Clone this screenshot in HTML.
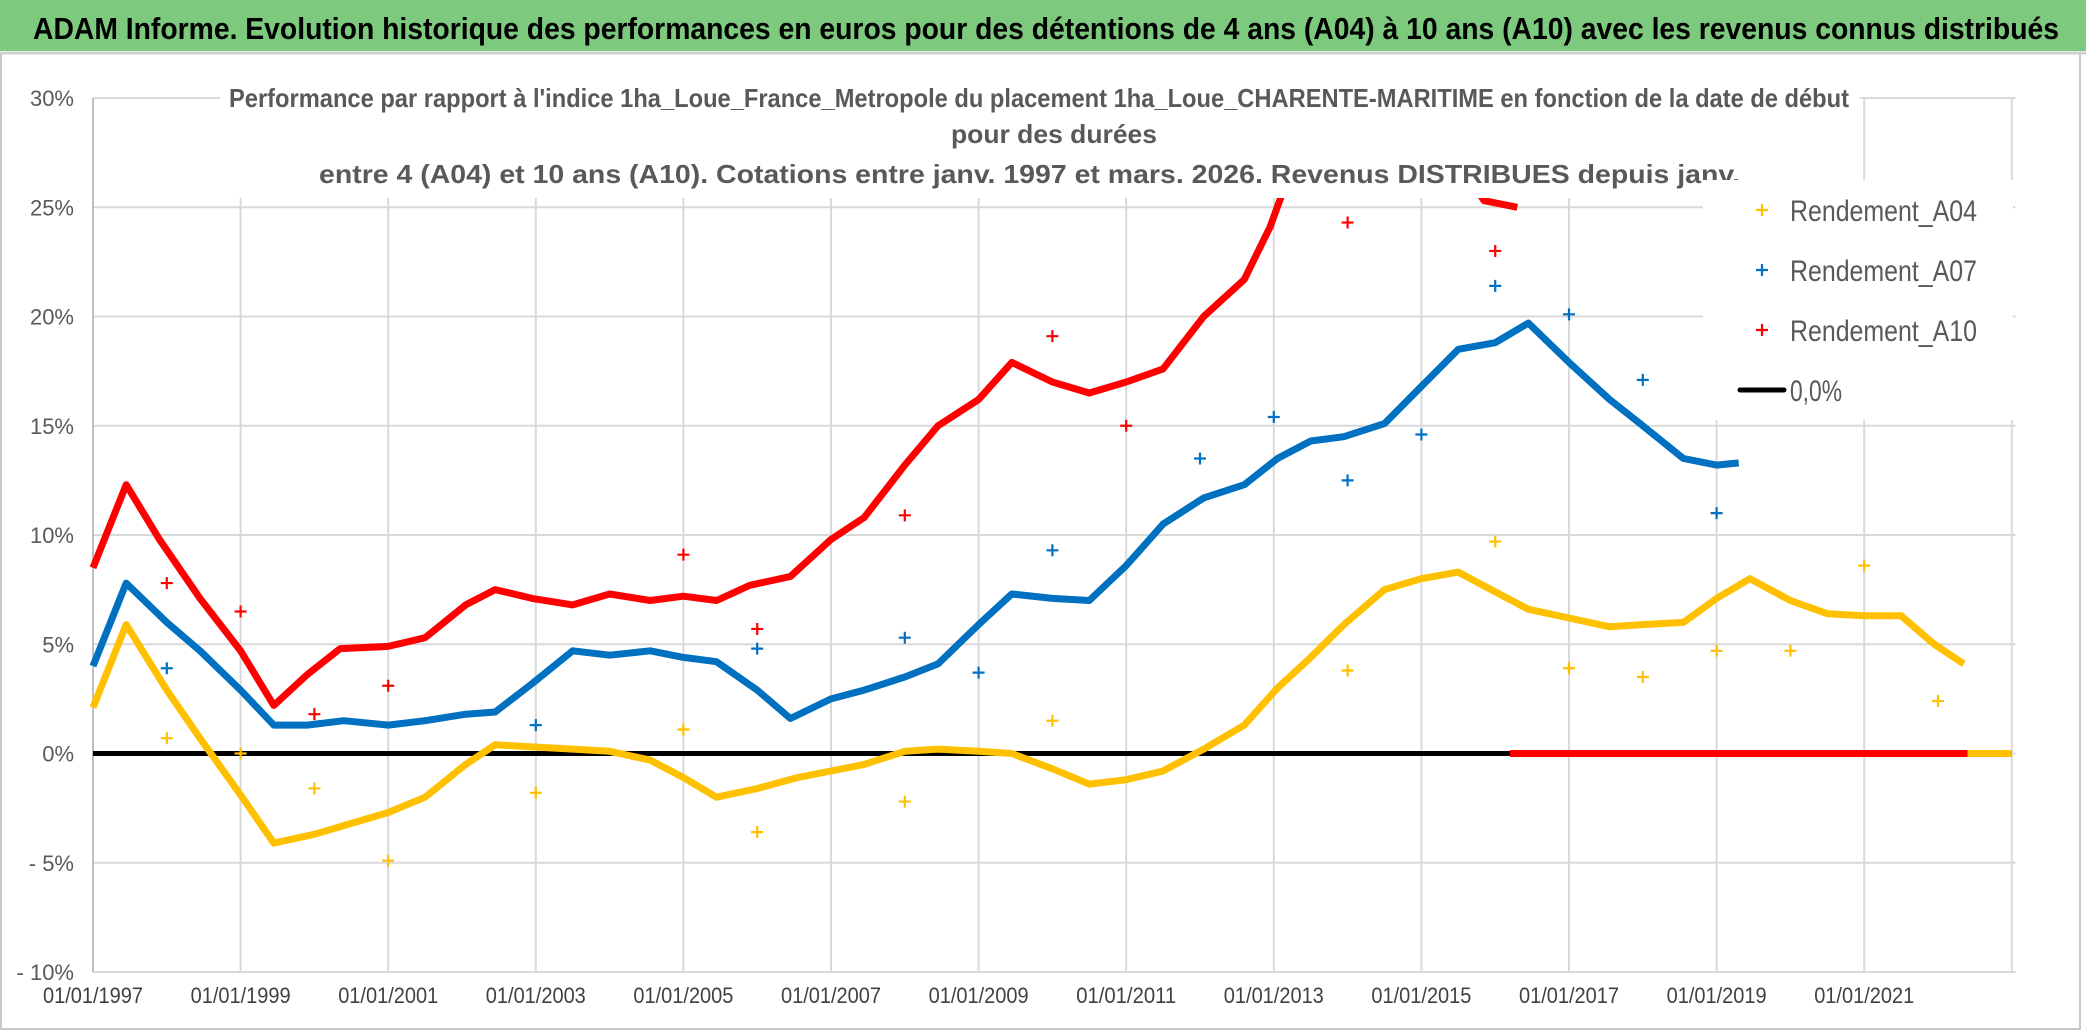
<!DOCTYPE html>
<html><head><meta charset="utf-8"><style>
html,body{margin:0;padding:0;background:#fff;}
svg{display:block;font-family:"Liberation Sans",sans-serif;}
</style></head><body>
<svg id="chart" width="2086" height="1031" viewBox="0 0 2086 1031" xmlns="http://www.w3.org/2000/svg">
<rect x="0" y="0" width="2086" height="1031" fill="#fff"/>
<rect x="1" y="53" width="2079" height="976" fill="none" stroke="#c8c8c8" stroke-width="2"/>
<rect x="0" y="0" width="2086" height="51" fill="#7dc97d"/>
<line x1="0" y1="53" x2="2086" y2="53" stroke="#d0d0d0" stroke-width="3"/>
<text x="33" y="39" font-size="31" font-weight="bold" fill="#000" textLength="2026" lengthAdjust="spacingAndGlyphs">ADAM Informe. Evolution historique des performances en euros pour des détentions de 4 ans (A04) à 10 ans (A10) avec les revenus connus distribués</text>
<g id="grid"></g>
<g id="series"></g>
<rect x="220" y="80" width="1640" height="118" fill="#fff"/>
<g fill="#595959" font-size="26" font-weight="600">
<text x="229" y="107" textLength="1620" lengthAdjust="spacingAndGlyphs">Performance par rapport à l'indice 1ha_Loue_France_Metropole  du placement 1ha_Loue_CHARENTE-MARITIME en fonction de la date de début</text>
<text x="951" y="143" textLength="206" lengthAdjust="spacingAndGlyphs">pour des durées</text>
<text x="319" y="183" textLength="1421" lengthAdjust="spacingAndGlyphs">entre 4 (A04) et 10 ans (A10). Cotations entre janv. 1997 et mars. 2026. Revenus DISTRIBUES depuis janv.</text>
</g>
<g id="legend">
<rect x="1703" y="180" width="310" height="240" fill="#fff"/>
</g>
</svg>
<script>
const yTicks = [30,25,20,15,10,5,0,-5,-10];
const yTickLabels = ["30%","25%","20%","15%","10%","5%","0%","- 5%","- 10%"];
const xTicks = [1997,1999,2001,2003,2005,2007,2009,2011,2013,2015,2017,2019,2021];
const xTickLabels = ["01/01/1997","01/01/1999","01/01/2001","01/01/2003","01/01/2005","01/01/2007","01/01/2009","01/01/2011","01/01/2013","01/01/2015","01/01/2017","01/01/2019","01/01/2021"];
const a04Dates = [1997.0,1997.45,1998.0,1998.45,1999.0,1999.45,2000.0,2000.5,2001.0,2001.5,2002.05,2002.45,2002.95,2003.5,2004.0,2004.55,2005.0,2005.45,2006.0,2006.55,2007.0,2007.45,2008.0,2008.45,2009.0,2009.45,2010.0,2010.5,2011.0,2011.5,2012.05,2012.6,2013.05,2013.5,2013.95,2014.5,2015.0,2015.5,2016.0,2016.45,2017.0,2017.55,2018.0,2018.55,2019.0,2019.45,2020.0,2020.5,2021.0,2021.5,2021.95,2022.35];
const a04Values = [2.1,5.9,2.9,0.7,-1.9,-4.1,-3.7,-3.2,-2.7,-2.0,-0.5,0.4,0.3,0.2,0.1,-0.3,-1.1,-2.0,-1.6,-1.1,-0.8,-0.5,0.1,0.2,0.1,0.0,-0.7,-1.4,-1.2,-0.8,0.2,1.3,3.0,4.4,5.9,7.5,8.0,8.3,7.4,6.6,6.2,5.8,5.9,6.0,7.1,8.0,7.0,6.4,6.3,6.3,5.0,4.1];
const a07Dates = [1997.0,1997.45,1998.0,1998.45,1999.0,1999.45,1999.9,2000.4,2001.0,2001.5,2002.05,2002.45,2002.95,2003.5,2004.0,2004.55,2005.0,2005.45,2006.0,2006.45,2007.0,2007.45,2008.0,2008.45,2009.0,2009.45,2010.0,2010.5,2011.0,2011.5,2012.05,2012.6,2013.05,2013.5,2013.95,2014.5,2015.0,2015.5,2016.0,2016.45,2017.0,2017.55,2018.0,2018.55,2019.0,2019.3];
const a07Values = [4.0,7.8,6.0,4.7,2.9,1.3,1.3,1.5,1.3,1.5,1.8,1.9,3.2,4.7,4.5,4.7,4.4,4.2,2.9,1.6,2.5,2.9,3.5,4.1,5.9,7.3,7.1,7.0,8.6,10.5,11.7,12.3,13.5,14.3,14.5,15.1,16.8,18.5,18.8,19.7,17.9,16.2,15.0,13.5,13.2,13.3];
const a10Dates = [1997.0,1997.45,1997.9,1998.45,1999.0,1999.45,1999.9,2000.35,2001.0,2001.5,2002.05,2002.45,2002.95,2003.5,2004.0,2004.55,2005.0,2005.45,2005.9,2006.45,2007.0,2007.45,2008.0,2008.45,2009.0,2009.45,2010.0,2010.5,2011.0,2011.5,2012.05,2012.6,2012.95,2013.1,2013.6,2014.5,2015.3,2015.85,2016.3];
const a10Values = [8.5,12.3,9.8,7.1,4.7,2.2,3.6,4.8,4.9,5.3,6.8,7.5,7.1,6.8,7.3,7.0,7.2,7.0,7.7,8.1,9.8,10.8,13.2,15.0,16.2,17.9,17.0,16.5,17.0,17.6,20.0,21.7,24.1,25.5,28,29,28,25.3,25.0];
const a10ZeroRange = [2016.2,2022.4];
const a04ZeroRange = [2022.4,2023.0];
const a04OutDates = [1998,1999,2000,2001,2003,2005,2006,2008,2010,2014,2016,2017,2018,2019,2020,2021,2022];
const a04OutValues = [0.7,0,-1.6,-4.9,-1.8,1.1,-3.6,-2.2,1.5,3.8,9.7,3.9,3.5,4.7,4.7,8.6,2.4];
const a07OutDates = [1998,2003,2006,2008,2009,2010,2012,2013,2014,2015,2016,2017,2018,2019];
const a07OutValues = [3.9,1.3,4.8,5.3,3.7,9.3,13.5,15.4,12.5,14.6,21.4,20.1,17.1,11.0];
const a10OutDates = [1998,1999,2000,2001,2005,2006,2008,2010,2011,2014,2016];
const a10OutValues = [7.8,6.5,1.8,3.1,9.1,5.7,10.9,19.1,15.0,24.3,23.0];
const legendLabels = ["Rendement_A04","Rendement_A07","Rendement_A10","0,0%"];

const NS = "http://www.w3.org/2000/svg";
const X0 = 93, PX_YEAR = 73.8, Y0 = 753.5, PX_PCT = 21.85;
function xs(t){ return X0 + (t - 1997) * PX_YEAR; }
function ys(v){ return Y0 - v * PX_PCT; }
function mk(tag, attrs, parent){ const e = document.createElementNS(NS, tag); for (const k in attrs) e.setAttribute(k, attrs[k]); parent.appendChild(e); return e; }

const grid = document.getElementById('grid');
const XR = xs(2023.05);
yTicks.forEach((v, i) => {
  const l = mk('line', {x1: X0, x2: XR, y1: ys(v), y2: ys(v), stroke: '#d9d9d9', 'stroke-width': 2}, grid);
  
  
  const t = mk('text', {x: 74, y: ys(v) + 8, 'text-anchor': 'end', 'font-size': 22, fill: '#595959'}, grid);
  t.textContent = yTickLabels[i];
  
  
});
for (let yr = 1999; yr <= 2023; yr += 2) {
  const l = mk('line', {x1: xs(yr), x2: xs(yr), y1: ys(30), y2: ys(-10), stroke: '#d9d9d9', 'stroke-width': 2}, grid);
  
  
}
mk('line', {x1: X0, x2: X0, y1: ys(30), y2: ys(-10), stroke: '#bfbfbf', 'stroke-width': 2}, grid);
xTicks.forEach((yr, i) => {
  const t = mk('text', {x: xs(yr), y: 1003, 'text-anchor': 'middle', 'font-size': 22, fill: '#404040', textLength: 100, lengthAdjust: 'spacingAndGlyphs'}, grid);
  t.textContent = xTickLabels[i];
  
  
});

const sg = document.getElementById('series');
const zl = mk('line', {x1: X0, x2: xs(2023.0), y1: ys(0), y2: ys(0), stroke: '#000', 'stroke-width': 5}, sg);



function drawLine(dates, vals, color, name){
  const pts = dates.map((d, i) => xs(d).toFixed(1) + ',' + ys(vals[i]).toFixed(1)).join(' ');
  const p = mk('polyline', {points: pts, fill: 'none', stroke: color, 'stroke-width': 7, 'stroke-linejoin': 'round'}, sg);
  
  
}
function drawPlus(dates, vals, color, name){
  dates.forEach((d, i) => {
    const x = xs(d), y = ys(vals[i]);
    const p = mk('path', {d: `M${x-6},${y}H${x+6}M${x},${y-6}V${y+6}`, stroke: color, 'stroke-width': 2.2}, sg);
    
    
  });
}
function drawZero(range, color, name){
  const p = mk('line', {x1: xs(range[0]), x2: xs(range[1]), y1: ys(0), y2: ys(0), stroke: color, 'stroke-width': 7}, sg);
  
  
}
drawLine(a04Dates, a04Values, '#ffc000', 'series-a04');
drawLine(a07Dates, a07Values, '#0070c0', 'series-a07');
drawLine(a10Dates, a10Values, '#ff0000', 'series-a10');
drawZero(a10ZeroRange, '#ff0000', 'series-a10-zero');
drawZero(a04ZeroRange, '#ffc000', 'series-a04-zero');
drawPlus(a04OutDates, a04OutValues, '#ffc000', 'a04-point');
drawPlus(a07OutDates, a07OutValues, '#0070c0', 'a07-point');
drawPlus(a10OutDates, a10OutValues, '#ff0000', 'a10-point');

const lg = document.getElementById('legend');
const lcol = ['#ffc000','#0070c0','#ff0000','#000'];
legendLabels.forEach((lab, i) => {
  const y = 210 + i * 60;
  if (i < 3) {
    const m = mk('path', {d: `M1756,${y}H1768M1762,${y-6}V${y+6}`, stroke: lcol[i], 'stroke-width': 2.2}, lg);
    
    
  } else {
    const m = mk('line', {x1: 1740, x2: 1784, y1: y, y2: y, stroke: '#000', 'stroke-width': 5, 'stroke-linecap': 'round'}, lg);
    
    
  }
  const t = mk('text', {x: 1790, y: y + 11, 'font-size': 30, fill: '#595959', textLength: i < 3 ? 187 : 52, lengthAdjust: 'spacingAndGlyphs'}, lg);
  t.textContent = lab;
  
  
});
</script>
</body></html>
